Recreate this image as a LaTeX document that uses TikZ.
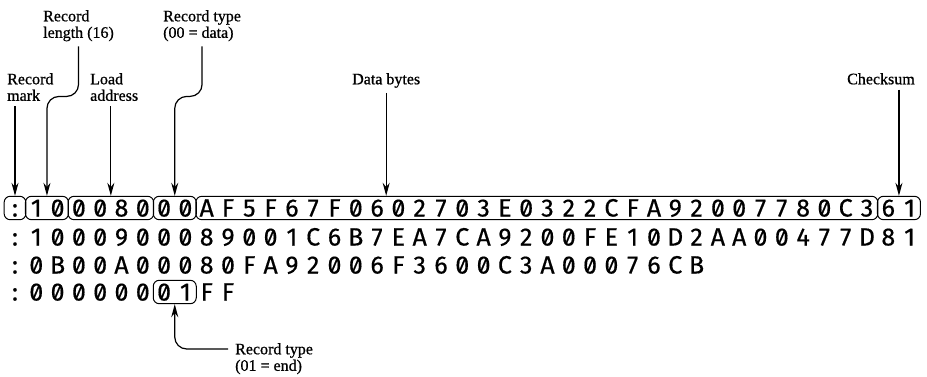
\documentclass[tikz,border=0pt]{standalone}
\usepackage{fontspec}
\setmainfont{Liberation Serif}
\newfontfamily\hexfont{Fira Sans}[Numbers={SlashedZero,Lining}, FakeBold=0.5]
\newfontfamily\lblfont{Liberation Serif}[FakeBold=0.8]
\usetikzlibrary{arrows.meta,positioning,calc,fit}

\tikzset{
  hexch/.style={font=\hexfont\fontsize{25}{25}\selectfont, inner sep=0pt, minimum width=21.3pt, text height=17pt, text depth=0pt},
  fld/.style={draw, rounded corners=6pt, inner xsep=0pt, inner ysep=3pt, line width=1pt},
  lbl/.style={font=\lblfont\fontsize{16}{16.5}\selectfont, align=left, inner sep=0pt, anchor=north west},
  arr/.style={-{Stealth[length=13pt,width=7pt]}, line width=1.2pt}
}

\begin{document}
\begin{tikzpicture}[x=1pt, y=-1pt]
	\useasboundingbox (0,0) rectangle (927,377);
	% the four records, one character per node
	\foreach \c [count=\i from 0] in {:,1,0,0,0,8,0,0,0,A,F,5,F,6,7,F,0,6,0,2,7,0,3,E,0,3,2,2,C,F,A,9,2,0,0,7,7,8,0,C,3,6,1}
		\node[hexch] (a\i) at ({15+21.3*\i},208) {\c};
	\foreach \c [count=\i from 0] in {:,1,0,0,0,9,0,0,0,8,9,0,0,1,C,6,B,7,E,A,7,C,A,9,2,0,0,F,E,1,0,D,2,A,A,0,0,4,7,7,D,8,1}
		\node[hexch] (b\i) at ({15+21.3*\i},237) {\c};
	\foreach \c [count=\i from 0] in {:,0,B,0,0,A,0,0,0,8,0,F,A,9,2,0,0,6,F,3,6,0,0,C,3,A,0,0,0,7,6,C,B}
		\node[hexch] (c\i) at ({15+21.3*\i},265) {\c};
	\foreach \c [count=\i from 0] in {:,0,0,0,0,0,0,0,1,F,F}
		\node[hexch] (d\i) at ({15+21.3*\i},292) {\c};

	% fields of the first record
	\node[fld, fit=(a0)] (mark) {};
	\node[fld, fit=(a1)(a2)] (len) {};
	\node[fld, fit=(a3)(a6)] (addr) {};
	\node[fld, fit=(a7)(a8)] (rtype) {};
	\node[fld, fit=(a9)(a40)] (data) {};
	\node[fld, fit=(a41)(a42)] (chk) {};
	\node[fld, fit=(d7)(d8)] (rtend) {};

	% labels
	\node[lbl] (lenlbl) at (43,10) {Record\\length (16)};
	\node[lbl] (typelbl) at (163,10) {Record type\\(00 = data)};
	\node[lbl] (marklbl) at (7,73) {Record\\mark};
	\node[lbl] (addrlbl) at (90,73) {Load\\address};
	\node[lbl] (datalbl) at (352,73) {Data bytes};
	\node[lbl] (chklbl) at (847,73) {Checksum};
	\node[lbl] (endlbl) at (235,343) {Record type\\(01 = end)};

	% pointers
	\draw[arr] ([yshift=-5pt]marklbl.south -| mark.north) -- (mark.north);
	\draw[arr] ([yshift=-5pt]addrlbl.south -| addr.north) -- (addr.north);
	\draw[arr] ([yshift=-5pt]datalbl.south) -- (datalbl.south |- data.north);
	\draw[arr] ([yshift=-5pt]chklbl.south -| chk.north) -- (chk.north);
	\draw[arr, rounded corners=12pt] ([yshift=-5pt]lenlbl.south) -- ++(0,50) -| (len.north);
	\draw[arr, rounded corners=12pt] ([yshift=-5pt]typelbl.south) -- ++(0,50) -| (rtype.north);
	\draw[arr, rounded corners=12pt] ($(endlbl.north west)+(-7,6)$) -| (rtend.south);
\end{tikzpicture}
\end{document}
